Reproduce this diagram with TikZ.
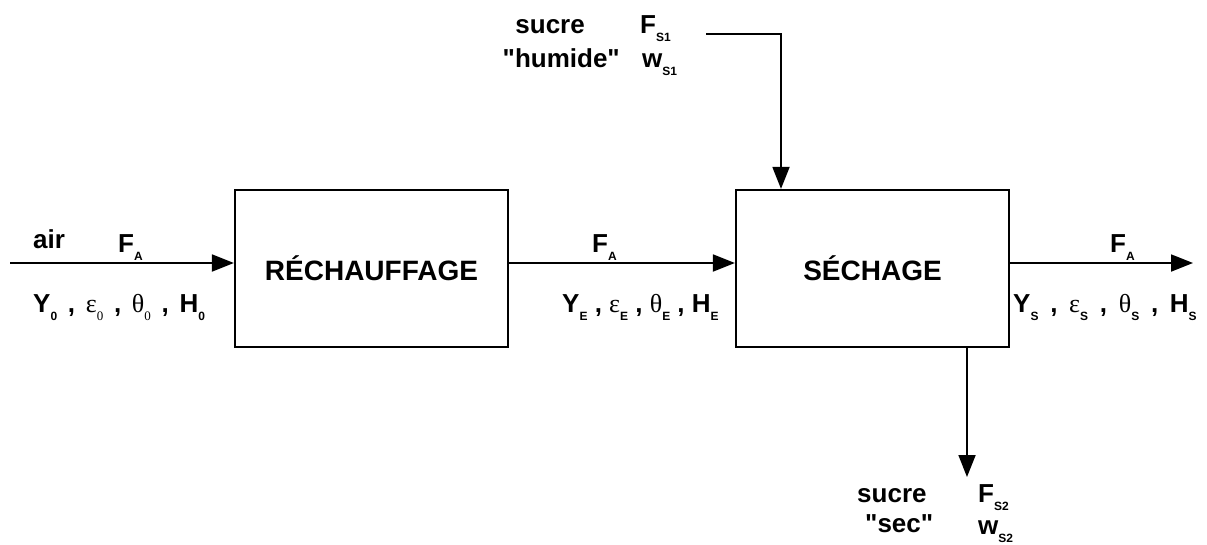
\documentclass[tikz,border=0pt]{standalone}
\usepackage{fontspec}
\setmainfont{Liberation Sans}
\newfontfamily\grk{Liberation Serif}
\usetikzlibrary{arrows.meta,positioning,calc}
\newcommand{\sbs}[1]{\raisebox{-0.32em}{\fontsize{12}{12}\selectfont\rmfamily\bfseries #1}}
\newcommand{\sbg}[1]{\raisebox{-0.32em}{\fontsize{13}{13}\selectfont\grk\mdseries #1}}

\begin{document}
\begin{tikzpicture}[x=1pt, y=-1pt,
    bloc/.style={draw, line width=2.2pt, minimum width=273pt, minimum height=157pt,
      font=\fontsize{28}{28}\selectfont\bfseries},
    flux/.style={line width=1.8pt, -{Triangle[length=22pt, width=17pt]}},
    lbl/.style={inner sep=0pt, anchor=base west, font=\fontsize{26}{26}\selectfont\bfseries}]
    \useasboundingbox (0,0) rectangle (1207,544);
    % Blocks
    \node[bloc] (rech) at (371.5,268.5) {RÉCHAUFFAGE};
    \node[bloc] (sech) at (872.5,268.5) {SÉCHAGE};

    % Air stream
    \coordinate (air) at (10,263);
    \coordinate (sortie) at (1193,263);
    \draw[flux] (air) -- (air -| rech.west);
    \draw[flux] (rech.east |- air) -- (sech.west |- air);
    \draw[flux] (sech.east |- air) -- (sortie);

    % Sugar streams
    \coordinate (s1) at (706,34);
    \coordinate (s1in) at (781,100);
    \draw[flux] (s1) -| (s1in |- sech.north);
    \coordinate (s2) at (967,477);
    \draw[flux] (s2 |- sech.south) -- (s2);

    % Air labels
    \node[lbl] (l-air) at (33,248) {air};
    \foreach \x/\n in {118/0, 592/E, 1110/S} {
      \node[lbl] (fa-\n) at (\x,252) {F\sbs{A}};
    }
    % Air state: Y, epsilon, theta, H
    \foreach \n/\g/\xa/\gap in {0/\sbg{0}/33/3.5pt, E/\sbs{E}/562/0pt, S/\sbs{S}/1013/4.5pt} {
      \node[lbl] (st-\n) at (\xa,312) {Y\sbs{\n}\hspace{\gap} ,\hspace{\gap} {\grk\mdseries ε}\g\hspace{\gap} ,\hspace{\gap}
        {\grk\mdseries θ}\g\hspace{\gap} ,\hspace{\gap} H\sbs{\n}};
    }

    % Sugar labels
    \node[lbl, anchor=base east] (su-1) at (585,33) {sucre};
    \node[lbl, anchor=base east] (hu-1) at (620,67) {\textquotedbl humide\textquotedbl};
    \node[lbl] (fs-1) at (640,33) {F\sbs{S1}};
    \node[lbl] (ws-1) at (642,67) {w\sbs{S1}};
    \node[lbl] (su-2) at (857,502) {sucre};
    \node[lbl] (se-2) at (865,532) {\textquotedbl sec\textquotedbl};
    \node[lbl] (fs-2) at (978,502) {F\sbs{S2}};
    \node[lbl] (ws-2) at (978,534) {w\sbs{S2}};
\end{tikzpicture}
\end{document}
